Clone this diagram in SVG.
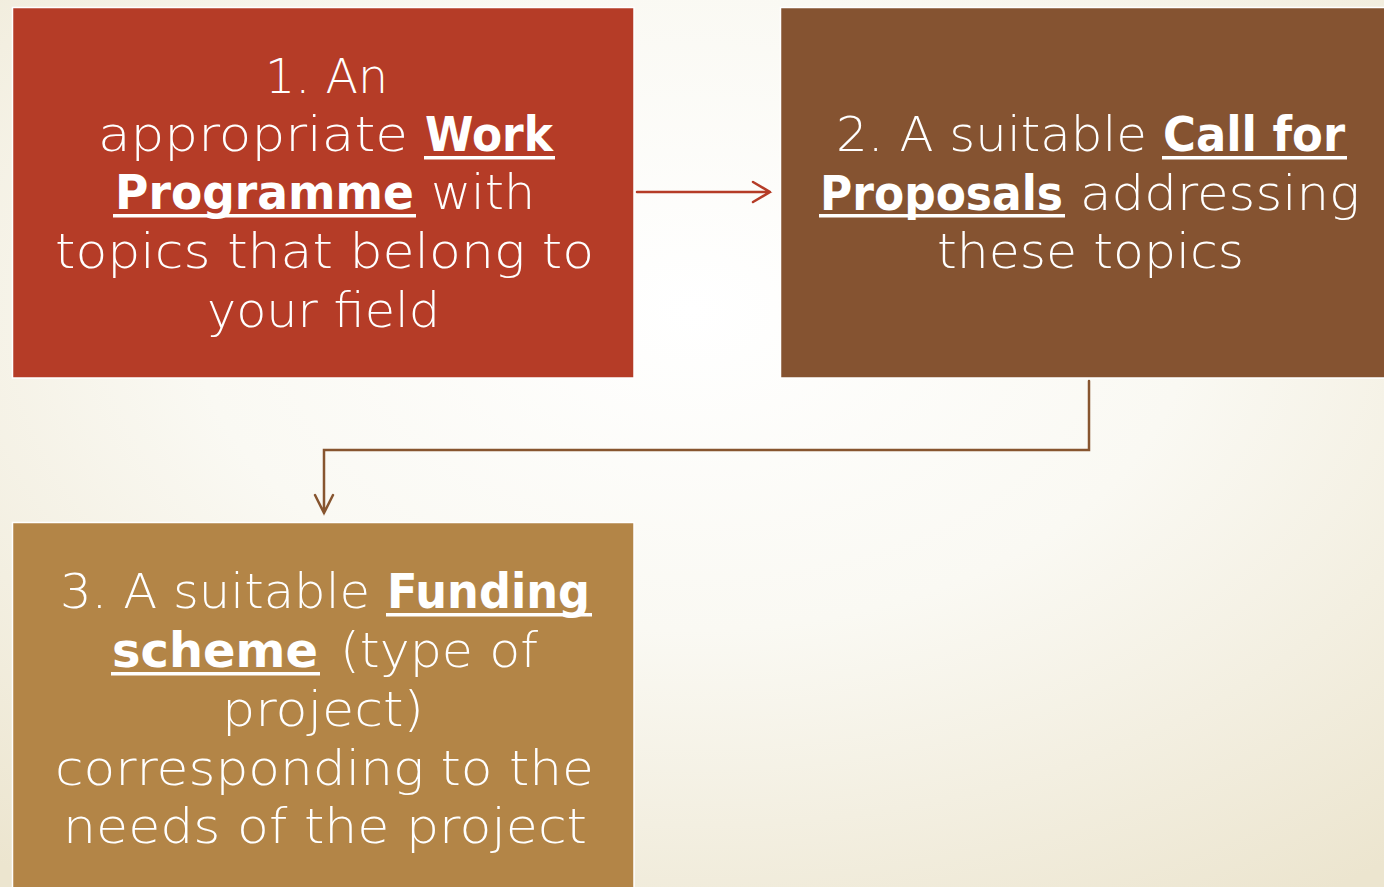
<svg xmlns="http://www.w3.org/2000/svg" width="1384" height="887" viewBox="0 0 1384 887">
  <defs>
    <radialGradient id="bg" cx="50%" cy="35%" r="80%">
      <stop offset="0" stop-color="#FFFFFF"/>
      <stop offset="0.45" stop-color="#FAF9F3"/>
      <stop offset="1" stop-color="#ECE5CF"/>
    </radialGradient>
    <style>
      .box { stroke: #FFFFFF; stroke-width: 1.5; }
      .t { font-family: "DejaVu Sans", "Liberation Sans", sans-serif; font-size: 48px; fill: #FFFFFF; font-weight: 300; }
      .b { font-weight: bold; }
      .ul { fill: #FFFFFF; }
      .conn { fill: none; stroke-width: 2.5; stroke-linecap: round; stroke-linejoin: miter; }
    </style>
  </defs>

  <rect width="1384" height="887" fill="url(#bg)"/>

  <!-- Step 1 -->
  <g id="node-work-programme">
    <rect class="box" x="12.5" y="7.5" width="621.5" height="370.5" fill="#B53C27"/>
    <text class="t" x="265" y="93" textLength="123" lengthAdjust="spacingAndGlyphs">1. An</text>
    <text class="t" x="98" y="151" textLength="310" lengthAdjust="spacingAndGlyphs">appropriate</text>
    <text class="t b" x="425" y="151" textLength="128" lengthAdjust="spacingAndGlyphs">Work</text>
    <rect class="ul" x="424" y="156" width="131" height="3.5"/>
    <text class="t b" x="115" y="209" textLength="299" lengthAdjust="spacingAndGlyphs">Programme</text>
    <rect class="ul" x="113" y="214" width="303" height="3.5"/>
    <text class="t" x="431" y="209" textLength="104" lengthAdjust="spacingAndGlyphs">with</text>
    <text class="t" x="55" y="268" textLength="539" lengthAdjust="spacingAndGlyphs">topics that belong to</text>
    <text class="t" x="207" y="327" textLength="233" lengthAdjust="spacingAndGlyphs">your field</text>
  </g>

  <!-- Step 2 -->
  <g id="node-call-for-proposals">
    <rect class="box" x="780.5" y="7.5" width="605" height="370.5" fill="#855331"/>
    <text class="t" x="836" y="151" textLength="311" lengthAdjust="spacingAndGlyphs">2. A suitable</text>
    <text class="t b" x="1163" y="151" textLength="182" lengthAdjust="spacingAndGlyphs">Call for</text>
    <rect class="ul" x="1162" y="156" width="185" height="3.5"/>
    <text class="t b" x="820" y="210" textLength="243" lengthAdjust="spacingAndGlyphs">Proposals</text>
    <rect class="ul" x="819" y="214" width="246" height="3.5"/>
    <text class="t" x="1080" y="210" textLength="280" lengthAdjust="spacingAndGlyphs">addressing</text>
    <text class="t" x="937" y="268" textLength="307" lengthAdjust="spacingAndGlyphs">these topics</text>
  </g>

  <!-- Step 3 -->
  <g id="node-funding-scheme">
    <rect class="box" x="12.5" y="522.5" width="621.5" height="370" fill="#B38547"/>
    <text class="t" x="60" y="608" textLength="310" lengthAdjust="spacingAndGlyphs">3. A suitable</text>
    <text class="t b" x="387" y="608" textLength="203" lengthAdjust="spacingAndGlyphs">Funding</text>
    <rect class="ul" x="386" y="613" width="206" height="3.5"/>
    <text class="t b" x="112" y="667" textLength="206" lengthAdjust="spacingAndGlyphs">scheme</text>
    <rect class="ul" x="111" y="672" width="209" height="3.5"/>
    <text class="t" x="340" y="667" textLength="198" lengthAdjust="spacingAndGlyphs">(type of</text>
    <text class="t" x="222" y="726" textLength="202" lengthAdjust="spacingAndGlyphs">project)</text>
    <text class="t" x="55" y="785" textLength="539" lengthAdjust="spacingAndGlyphs">corresponding to the</text>
    <text class="t" x="63" y="843" textLength="524" lengthAdjust="spacingAndGlyphs">needs of the project</text>
  </g>

  <!-- Connectors -->
  <g id="connectors">
    <path class="conn" stroke="#B53C27" d="M637 192 H770 M753 182 L770 192 L753 202"/>
    <path class="conn" stroke="#87552F" d="M1089 381 V450 H324 V513 M315 495 L324 513 L333 495"/>
  </g>
</svg>
